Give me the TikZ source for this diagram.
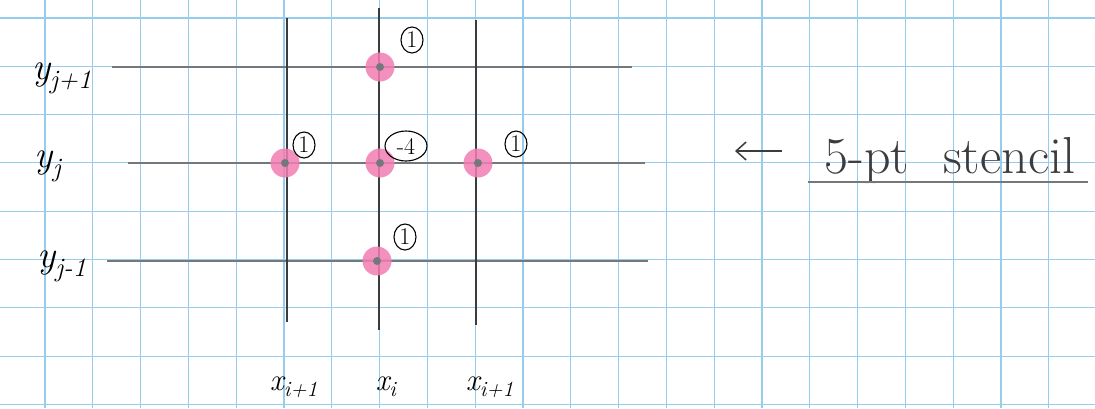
\documentclass[tikz,border=0pt]{standalone}
\usepackage{fontspec}
\usetikzlibrary{shapes.geometric,arrows.meta}
\definecolor{gridblue}{RGB}{150,205,238}
\definecolor{pencil}{RGB}{60,60,62}
\definecolor{pencilh}{RGB}{115,120,125}
\definecolor{dotpink}{RGB}{242,125,178}
\begin{document}
\begin{tikzpicture}[x=1pt,y=-1pt,
  gridline/.style={gridblue,line width=1.1pt},
  vline/.style={pencil,line width=2pt},
  hline/.style={pencilh,line width=2pt},
  stpt/.style={circle,fill=dotpink,fill opacity=0.85,minimum size=29pt,inner sep=0pt},
  core/.style={circle,fill=pencilh,minimum size=8pt,inner sep=0pt},
  cnum/.style={ellipse,draw=black,line width=1.1pt,inner sep=0pt,minimum height=26pt,minimum width=22pt,font=\fontsize{24}{24}\selectfont},
  cnumw/.style={ellipse,draw=black,line width=1.1pt,inner sep=0pt,minimum height=30pt,minimum width=42pt,font=\fontsize{24}{24}\selectfont},
  lab/.style={font=\fontsize{38}{38}\selectfont\itshape},
  xlab/.style={font=\fontsize{31}{31}\selectfont\itshape}
]
\fill[white] (0,0) rectangle (1095,408);
\useasboundingbox (0,0) rectangle (1095,408);
\foreach \k in {0,...,21} \draw[gridline] ({45+47.8*\k},0) -- ({45+47.8*\k},408);
\foreach \k in {0,...,8} \draw[gridline] (0,{18+48.3*\k}) -- (1095,{18+48.3*\k});

% stencil lines
\coordinate (h1a) at (112,67);  \coordinate (h1b) at (632,67);
\coordinate (h2a) at (128,163); \coordinate (h2b) at (645,163);
\coordinate (h3a) at (107,261); \coordinate (h3b) at (648,261);
\coordinate (v1a) at (287,18);  \coordinate (v1b) at (287,322);
\coordinate (v2a) at (379,8);   \coordinate (v2b) at (379,330);
\coordinate (v3a) at (476,20);  \coordinate (v3b) at (476,325);
\draw[hline] (h1a) -- (h1b);
\draw[hline] (h2a) -- (h2b);
\draw[hline] (h3a) -- (h3b);
\draw[vline] (v1a) -- (v1b);
\draw[vline] (v2a) -- (v2b);
\draw[vline] (v3a) -- (v3b);

% stencil points
\node[stpt] (pN) at (380,67) {};
\node[stpt] (pW) at (285,163) {};
\node[stpt] (pC) at (380,163) {};
\node[stpt] (pE) at (478,163) {};
\node[stpt] (pS) at (377,261) {};
\foreach \p in {pN,pW,pC,pE,pS} \node[core] at (\p) {};

% weights
\node[cnum] (wN) at (412,40) {1};
\node[cnum] (wW) at (304,145) {1};
\node[cnumw] (wC) at (406,146) {-4};
\node[cnum] (wE) at (516,144) {1};
\node[cnum] (wS) at (405,237) {1};

% axis labels
\node[lab] (yj1) at (62,78) {y\textsubscript{j+1}};
\node[lab] (yj) at (48,166) {y\textsubscript{j}};
\node[lab] (yjm) at (62,266) {y\textsubscript{j-1}};
\node[xlab] (xim) at (294,387) {x\textsubscript{i+1}};
\node[xlab] (xi) at (386,387) {x\textsubscript{i}};
\node[xlab] (xip) at (490,387) {x\textsubscript{i+1}};

% annotation
\coordinate (arrS) at (782,151);
\coordinate (arrE) at (735,151);
\draw[pencil,line width=1.5pt,-{Straight Barb[length=10pt,width=18pt]}] (arrS) -- (arrE);
\node[font=\fontsize{52}{52}\selectfont,pencil,anchor=base] (st) at (950,173) {5-pt\hspace{34pt}stencil};
\coordinate (ulA) at (808,182); \coordinate (ulB) at (1088,182);
\draw[pencilh,line width=2.4pt] (ulA) -- (ulB);
\end{tikzpicture}
\end{document}
